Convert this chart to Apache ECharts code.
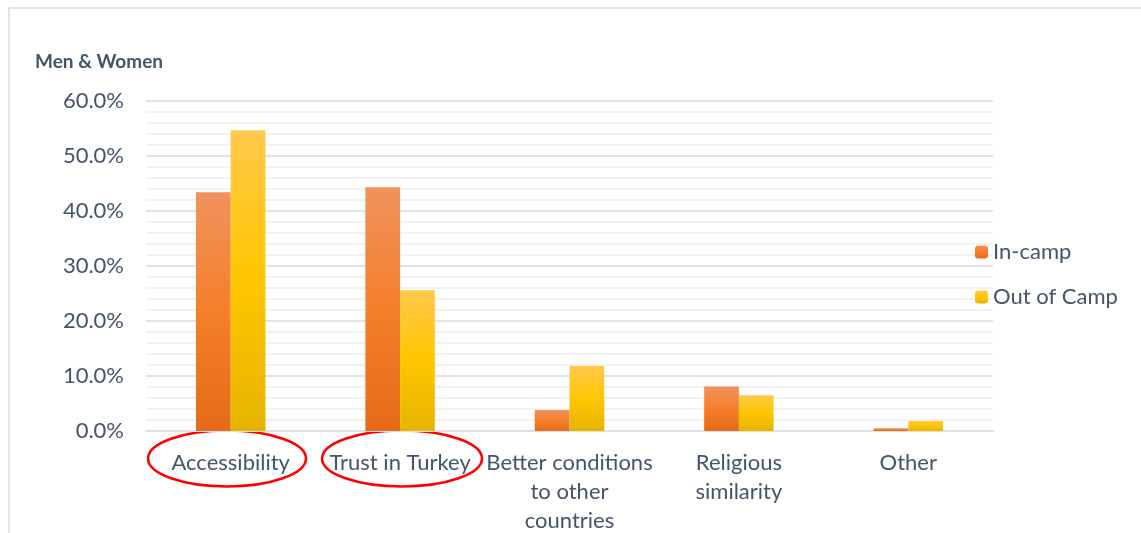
<!DOCTYPE html>
<html><head><meta charset="utf-8">
<script src="https://cdn.jsdelivr.net/npm/echarts@6/dist/echarts.min.js"></script>
<style>html,body{margin:0;padding:0;background:#fff}#c{width:1141px;height:533px}</style>
</head><body><div id="c"></div>
<script>
const categories = ['Accessibility', 'Trust in Turkey', 'Better conditions\nto other\ncountries', 'Religious\nsimilarity', 'Other'];
const inCamp = [43.4, 44.3, 3.8, 8.1, 0.5];
const outOfCamp = [54.7, 25.6, 11.8, 6.5, 1.8];
const seriesNames = ['In-camp', 'Out of Camp'];
const chartTitle = 'Men & Women';

const txt = '#44546A';
const grad = (a, b, c) => new echarts.graphic.LinearGradient(0, 0, 0, 1, [
  {offset: 0, color: a}, {offset: 0.5, color: b}, {offset: 1, color: c}]);

const chart = echarts.init(document.getElementById('c'), null, {renderer: 'canvas'});
chart.setOption({
  animation: false,
  backgroundColor: '#fff',
  title: {text: chartTitle, left: 30, top: 47,
    textStyle: {fontFamily: 'Lato', fontWeight: 'bold', fontSize: 19, color: txt}},
  legend: {
    orient: 'vertical', left: 970, top: 236, itemGap: 23, itemWidth: 13, itemHeight: 13,
    textStyle: {fontFamily: 'Lato', fontSize: 22, color: txt, padding: [0, 0, 0, 0]},
    data: seriesNames
  },
  grid: {left: 146, right: 148, top: 101, height: 330, containLabel: false, outerBoundsMode: 'none'},
  xAxis: {
    type: 'category', data: categories,
    axisLine: {lineStyle: {color: '#DDE2EA', width: 2}},
    axisTick: {show: false},
    axisLabel: {fontFamily: 'Lato', fontSize: 22, color: txt, lineHeight: 29, margin: 17, interval: 0}
  },
  yAxis: {
    type: 'value', min: 0, max: 60, interval: 10,
    axisLabel: {formatter: v => v.toFixed(1) + '%', fontFamily: 'Lato', fontSize: 22, color: txt, margin: 22},
    axisLine: {show: false}, axisTick: {show: false},
    splitLine: {lineStyle: {color: '#DFE3EA', width: 2}},
    minorTick: {show: false, splitNumber: 5},
    minorSplitLine: {show: true, lineStyle: {color: '#F2F2F2', width: 2}}
  },
  series: [
    {name: seriesNames[0], type: 'bar', data: inCamp, barGap: '0%', barCategoryGap: '59%',
     itemStyle: {color: grad('#F0925E', '#F57F2A', '#E66A18')}},
    {name: seriesNames[1], type: 'bar', data: outOfCamp,
     itemStyle: {color: grad('#FFC84A', '#FFC600', '#E6B400')}}
  ],
  graphic: [
    {type: 'rect', shape: {x: 9, y: 8, width: 1200, height: 600}, style: {fill: 'none', stroke: '#D9DEE5', lineWidth: 1.5}, z: -1},
    {type: 'ellipse', shape: {cx: 227, cy: 458.5, rx: 79, ry: 28}, style: {fill: 'none', stroke: '#FF0000', lineWidth: 2.5}},
    {type: 'ellipse', shape: {cx: 402, cy: 458.5, rx: 80, ry: 28}, style: {fill: 'none', stroke: '#FF0000', lineWidth: 2.5}}
  ]
});
</script></body></html>
